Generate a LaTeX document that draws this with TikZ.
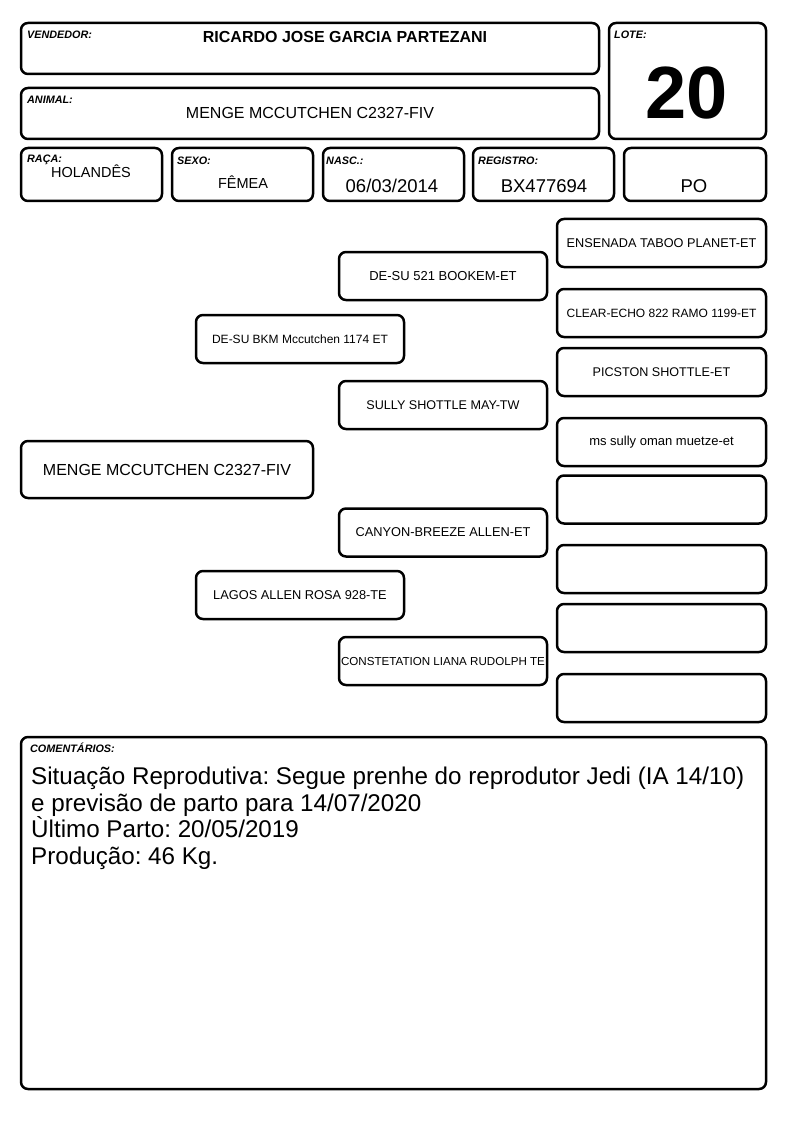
\documentclass[tikz,border=0pt]{standalone}
\usepackage{fontspec}
\setmainfont{Liberation Sans}
\frenchspacing
\newcommand{\fsz}[1]{\fontsize{#1}{#1}\selectfont}
\begin{document}
\frenchspacing
\begin{tikzpicture}[x=1pt,y=-1pt,
  box/.style={draw, line width=2.5pt, rounded corners=7pt, inner sep=0pt, align=center},
  lbl/.style={anchor=base west, inner sep=0pt, font=\fsz{10.8}\bfseries\itshape},
  val/.style={anchor=base, inner sep=0pt},
  ped/.style={box, minimum width=208pt, minimum height=48pt},
  pedr/.style={box, minimum width=209pt, minimum height=48pt},
  cmt/.style={anchor=base west, inner sep=0pt, font=\fsz{24.2}}
]
\useasboundingbox (0,0) rectangle (794,1123);

% header boxes
\node[box, minimum width=578pt, minimum height=51pt] (vend) at (310,48.5) {};
\node[lbl] (vendl) at (27,38.5) {VENDEDOR:};
\node[val, font=\fsz{16}\bfseries] (vendn) at (345,43) {RICARDO JOSE GARCIA PARTEZANI};

\node[box, minimum width=578pt, minimum height=51pt] (anim) at (310,113.5) {};
\node[lbl] (animl) at (27,103.5) {ANIMAL:};
\node[val, font=\fsz{16}] (animn) at (310,119) {MENGE MCCUTCHEN C2327-FIV};

\node[box, minimum width=157pt, minimum height=116pt] (lote) at (687.5,81) {};
\node[lbl] (lotel) at (614,39) {LOTE:};
\node[val, font=\fsz{74}\bfseries] (loten) at (687,118.5) {20};

\node[box, minimum width=141pt, minimum height=53pt] (raca) at (91.5,174.5) {};
\node[lbl] (racal) at (27,162.7) {RAÇA:};
\node[val, font=\fsz{14.5}] (racan) at (91,178) {HOLANDÊS};

\node[box, minimum width=141pt, minimum height=53pt] (sexo) at (242.5,174.5) {};
\node[lbl] (sexol) at (177,165) {SEXO:};
\node[val, font=\fsz{14.5}] (sexon) at (243,189) {FÊMEA};

\node[box, minimum width=141pt, minimum height=53pt] (nasc) at (393.5,174.5) {};
\node[lbl] (nascl) at (326,165) {NASC.:};
\node[val, font=\fsz{18.5}] (nascn) at (392,192.5) {06/03/2014};

\node[box, minimum width=141pt, minimum height=53pt] (reg) at (543.5,174.5) {};
\node[lbl] (regl) at (478,165) {REGISTRO:};
\node[val, font=\fsz{18.5}] (regn) at (544,192.5) {BX477694};

\node[box, minimum width=142pt, minimum height=53pt] (po) at (695,174.5) {};
\node[val, font=\fsz{18.5}] (pon) at (694,192.5) {PO};

% pedigree
\node[box, minimum width=292pt, minimum height=57pt, font=\fsz{16}] (main) at (167,469.5) {MENGE MCCUTCHEN C2327-FIV};

\node[ped, font=\fsz{12}] (sire) at (300,339) {DE-SU BKM Mccutchen 1174 ET};
\node[ped, font=\fsz{12.8}] (dam) at (300,595) {LAGOS ALLEN ROSA 928-TE};

\node[ped, font=\fsz{13}] (ss) at (443,276) {DE-SU 521 BOOKEM-ET};
\node[ped, font=\fsz{12.6}] (sd) at (443,405) {SULLY SHOTTLE MAY-TW};
\node[ped, font=\fsz{12.8}] (ds) at (443,532.5) {CANYON-BREEZE ALLEN-ET};
\node[ped, font=\fsz{11.6}] (dd) at (443,661) {CONSTETATION LIANA RUDOLPH TE};

\node[pedr, font=\fsz{12.7}] (sss) at (661.5,243) {ENSENADA TABOO PLANET-ET};
\node[pedr, font=\fsz{12}] (ssd) at (661.5,313) {CLEAR-ECHO 822 RAMO 1199-ET};
\node[pedr, font=\fsz{12.6}] (sds) at (661.5,372) {PICSTON SHOTTLE-ET};
\node[pedr, font=\fsz{13}] (sdd) at (661.5,442) {ms sully oman muetze-et};
\node[pedr] (dss) at (661.5,499.5) {};
\node[pedr] (dsd) at (661.5,569) {};
\node[pedr] (dds) at (661.5,628) {};
\node[pedr] (ddd) at (661.5,698) {};

% comments
\node[box, minimum width=745pt, minimum height=352pt] (com) at (393.5,913) {};
\node[lbl] (coml) at (30,752) {COMENTÁRIOS:};
\node[cmt] (c1) at (31,784.5) {Situação Reprodutiva: Segue prenhe do reprodutor Jedi (IA 14/10)};
\node[cmt] (c2) at (31,811) {e previsão de parto para 14/07/2020};
\node[cmt] (c3) at (31,837.5) {Ùltimo Parto: 20/05/2019};
\node[cmt] (c4) at (31,864) {Produção: 46 Kg.};
\end{tikzpicture}
\end{document}
